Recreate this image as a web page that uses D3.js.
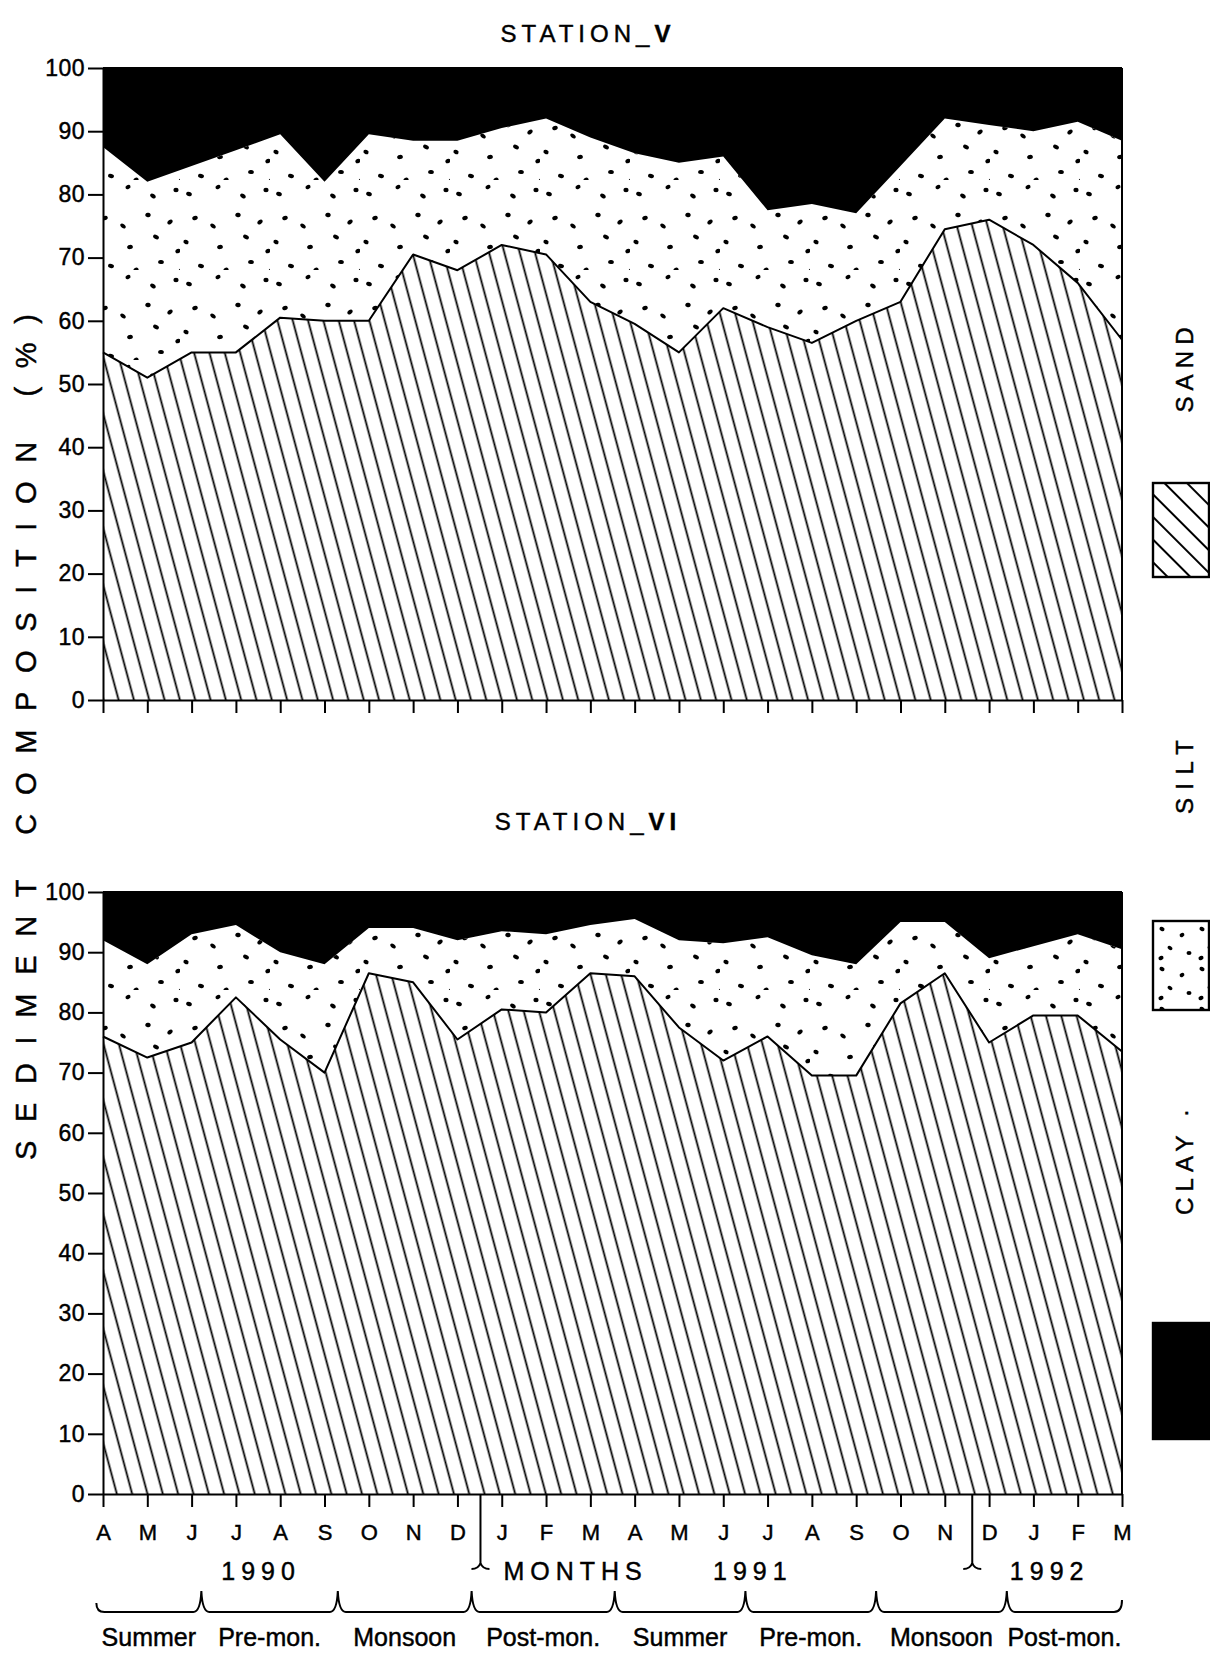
<!DOCTYPE html>
<html>
<head>
<meta charset="utf-8">
<script src="https://cdn.jsdelivr.net/npm/d3@7"></script>
<style>
  html, body { margin: 0; padding: 0; background: #fff; }
  svg { display: block; }
  text { font-family: "Liberation Sans", Arial, sans-serif; fill: #000; stroke: #000; stroke-width: 0.45; }
</style>
</head>
<body>
<svg id="chart" width="1210" height="1658"></svg>
<script>
// ---- data -------------------------------------------------------------
const months = ["A","M","J","J","A","S","O","N","D","J","F","M",
                "A","M","J","J","A","S","O","N","D","J","F","M"];
const yTicks = [0, 10, 20, 30, 40, 50, 60, 70, 80, 90, 100];
const layers = ["sand", "silt", "clay"];

// Station V composition (%)
const sandV = [55, 51, 55, 55, 60.5, 60, 60, 70.5, 68, 72, 70.5, 63,
               59.5, 55, 62, 59, 56.5, 60, 63, 74.5, 76, 72, 66, 57];
const siltV = [32.5, 31, 29.5, 32, 29, 22, 29.5, 18, 20.5, 18.5, 21.5, 26,
               27, 30, 24, 18.5, 22, 17, 21.5, 17.5, 15, 18, 25.5, 31.5];
const clayV = [12.5, 18, 15.5, 13, 10.5, 18, 10.5, 11.5, 11.5, 9.5, 8, 11,
               13.5, 15, 14, 22.5, 21.5, 23, 15.5, 8, 9, 10, 8.5, 11.5];

// Station VI composition (%)
const sandVI = [76, 72.5, 75, 82.5, 75.5, 70, 86.5, 85, 75.5, 80.5, 80, 86.5,
                86, 77.5, 72, 76, 69.5, 69.5, 81.5, 86.5, 75, 79.5, 79.5, 73.5];
const siltVI = [16, 15.5, 18, 12, 14.5, 18, 7.5, 9, 16.5, 13, 13, 8,
                9.5, 14.5, 19.5, 16.5, 20, 18.5, 13.5, 8.5, 14, 11.5, 13.5, 17];
const clayVI = [8, 12, 7, 5.5, 10, 12, 6, 6, 8, 6.5, 7, 5.5,
                4.5, 8, 8.5, 7.5, 10.5, 12, 5, 5, 11, 9, 7, 9.5];

// seasons and their span along the month index
const seasons = ["Summer", "Pre-mon.", "Monsoon", "Post-mon.",
                 "Summer", "Pre-mon.", "Monsoon", "Post-mon."];
const seasonBounds = [-0.15, 2.22, 5.3, 8.32, 11.55, 14.5, 17.45, 20.4, 23];

// year captions under the month axis, and year break markers
const yearLabels = ["1990", "MONTHS", "1991", "1992"];
const yearLabelAt = [3.5, 10.6, 14.6, 21.3];
const yearBreaks = [8.52, 19.62];

const legendNames = ["SAND", "SILT", "CLAY ·"];

// ---- layout -------------------------------------------------------------
const ink = "#000";
const svg = d3.select("#chart");
const defs = svg.append("defs");

const x = d3.scaleLinear().domain([0, months.length - 1]).range([103, 1122]);

// sand: steep diagonal hatching
const hatch = defs.append("pattern")
  .attr("id", "hatch").attr("patternUnits", "userSpaceOnUse")
  .attr("width", 14.8).attr("height", 40)
  .attr("patternTransform", "rotate(-15)");
hatch.append("line")
  .attr("x1", 7.4).attr("x2", 7.4).attr("y1", -2).attr("y2", 42)
  .attr("stroke", ink).attr("stroke-width", 1.8);

const hatchKey = defs.append("pattern")
  .attr("id", "hatchKey").attr("patternUnits", "userSpaceOnUse")
  .attr("width", 16).attr("height", 40)
  .attr("patternTransform", "translate(1153,483) rotate(-45)");
hatchKey.append("line")
  .attr("x1", 8).attr("x2", 8).attr("y1", -2).attr("y2", 42)
  .attr("stroke", ink).attr("stroke-width", 2);

// silt: irregular stipple tiles
const stipple = [
  [9, 14, 2.9, 2.1, 20], [38, 7, 2.7, 2.0, -30], [63, 16, 3.1, 2.0, 35], [86, 10, 2.6, 2.2, 0],
  [15, 38, 2.8, 2.1, -20], [33, 46, 3.1, 1.9, 40], [58, 35, 2.7, 2.2, 10], [80, 42, 3.0, 2.0, -35],
  [6, 62, 2.7, 2.1, 25], [40, 67, 2.9, 2.1, -10], [66, 57, 3.1, 2.0, 30], [88, 71, 2.7, 2.1, -25],
  [21, 86, 3.0, 2.0, 15], [46, 90, 2.7, 2.2, -40], [71, 82, 2.9, 2.1, 5], [91, 91, 2.4, 2.0, 30]
];
const stippleKey = [
  [7, 8, 2.6, 2.0, 20], [27, 14, 2.5, 2.0, -30], [15, 27, 2.7, 1.9, 35],
  [34, 32, 2.5, 2.1, 0], [6, 37, 2.6, 2.0, -20]
];
function stipplePattern(id, dots, size, transform) {
  const p = defs.append("pattern")
    .attr("id", id).attr("patternUnits", "userSpaceOnUse")
    .attr("width", size).attr("height", size);
  if (transform) p.attr("patternTransform", transform);
  p.selectAll("ellipse").data(dots).join("ellipse")
    .attr("cx", d => d[0]).attr("cy", d => d[1])
    .attr("rx", d => d[2]).attr("ry", d => d[3])
    .attr("transform", d => `rotate(${d[4]},${d[0]},${d[1]})`)
    .attr("fill", ink);
}
stipplePattern("dots", stipple, 90, null);
stipplePattern("dotsKey", stippleKey, 40, "translate(1155,921)");

const layerFill = { sand: "url(#hatch)", silt: "url(#dots)", clay: ink };

const panels = [
  { title: "STATION_", numeral: "V", sand: sandV, silt: siltV, clay: clayV,
    top: 68, bottom: 700, titleY: 42, labels: false },
  { title: "STATION_", numeral: "VI", sand: sandVI, silt: siltVI, clay: clayVI,
    top: 892, bottom: 1494, titleY: 830, labels: true }
];

panels.forEach(p => {
  const y = d3.scaleLinear().domain([0, 100]).range([p.bottom, p.top]);
  const rows = months.map((m, i) => ({ i, sand: p.sand[i], silt: p.silt[i], clay: p.clay[i] }));
  const stacked = d3.stack().keys(layers)(rows);

  const area = d3.area()
    .x(d => x(d.data.i))
    .y0(d => y(d[0]))
    .y1(d => y(d[1]));

  const g = svg.append("g");

  g.selectAll("path.layer").data(stacked).join("path")
    .attr("class", "layer")
    .attr("d", area)
    .attr("fill", d => layerFill[d.key]);

  // outline of the sand layer
  g.append("path")
    .datum(stacked[0])
    .attr("d", d3.line().x(d => x(d.data.i)).y(d => y(d[1])))
    .attr("fill", "none").attr("stroke", ink)
    .attr("stroke-width", 2).attr("stroke-linejoin", "round");

  // top frame
  g.append("line")
    .attr("x1", x(0)).attr("x2", x(months.length - 1))
    .attr("y1", y(100)).attr("y2", y(100))
    .attr("stroke", ink).attr("stroke-width", 2);

  // axes
  const yAxis = g.append("g")
    .attr("transform", `translate(${x(0)},0)`)
    .call(d3.axisLeft(y).tickValues(yTicks).tickSize(15).tickSizeOuter(0).tickPadding(3));
  yAxis.selectAll("text")
    .attr("font-size", 23).attr("letter-spacing", 0.5)
    .attr("font-family", "'DejaVu Sans', sans-serif");

  const xAxis = g.append("g")
    .attr("transform", `translate(0,${p.bottom})`)
    .call(d3.axisBottom(x).tickValues(d3.range(months.length))
      .tickSize(13).tickSizeOuter(0).tickPadding(17)
      .tickFormat(i => p.labels ? months[i] : ""));
  xAxis.selectAll("text").attr("font-size", 22).attr("font-family", null);

  [yAxis, xAxis].forEach(a => {
    a.attr("font-family", null);
    a.selectAll("line, path").attr("stroke", ink).attr("stroke-width", 2);
  });

  // right frame
  g.append("line")
    .attr("x1", x(months.length - 1)).attr("x2", x(months.length - 1))
    .attr("y1", y(100)).attr("y2", y(0))
    .attr("stroke", ink).attr("stroke-width", 2);

  // panel title
  const t = svg.append("text")
    .attr("x", 588).attr("y", p.titleY)
    .attr("text-anchor", "middle")
    .attr("font-size", 24).attr("letter-spacing", 5);
  t.append("tspan").text(p.title);
  t.append("tspan").attr("font-weight", "bold").text(p.numeral);

  if (p.labels) {
    // year break markers
    yearBreaks.forEach(b => {
      const bx = x(b), yEnd = 1563;
      svg.append("path")
        .attr("d", `M${bx},${p.bottom}V${yEnd}M${bx - 9},${yEnd + 6}Q${bx - 2},${yEnd + 6} ${bx},${yEnd}Q${bx + 2},${yEnd + 6} ${bx + 9},${yEnd + 6}`)
        .attr("fill", "none").attr("stroke", ink).attr("stroke-width", 2);
    });

    // year captions
    svg.selectAll("text.year").data(yearLabels).join("text")
      .attr("class", "year")
      .attr("x", (d, k) => x(yearLabelAt[k]) + 3)
      .attr("y", 1580)
      .attr("text-anchor", "middle")
      .attr("font-family", "'DejaVu Sans', sans-serif")
      .attr("font-size", 25).attr("letter-spacing", 6)
      .text(d => d);

    // season braces
    const yb = 1612, yt = 1591;
    const path = d3.path();
    const xs = seasonBounds.map(b => x(b));
    path.moveTo(xs[0], 1603);
    path.quadraticCurveTo(xs[0], yb, xs[0] + 8, yb);
    xs.slice(1, -1).forEach(t => {
      path.lineTo(t - 8, yb);
      path.quadraticCurveTo(t - 1, yb, t, yt);
      path.quadraticCurveTo(t + 1, yb, t + 8, yb);
    });
    const xe = xs[xs.length - 1];
    path.lineTo(xe - 8, yb);
    path.quadraticCurveTo(xe, yb, xe, 1600);
    svg.append("path").attr("d", path.toString())
      .attr("fill", "none").attr("stroke", ink).attr("stroke-width", 2);

    svg.selectAll("text.season").data(seasons).join("text")
      .attr("class", "season")
      .attr("x", (d, k) => (xs[k] + xs[k + 1]) / 2)
      .attr("y", 1646)
      .attr("text-anchor", "middle")
      .attr("font-size", 25)
      .text(d => d);
  }
});

// shared y-axis title
svg.append("text")
  .attr("transform", "translate(36,737) rotate(-90)")
  .attr("text-anchor", "middle")
  .attr("font-size", 29)
  .attr("textLength", 846).attr("lengthAdjust", "spacing")
  .text("SEDIMENT COMPOSITION (%)");

// legend
const legendY = [370, 777, 1162];
const legendLen = [85, 74, 106];
svg.selectAll("text.key").data(legendNames).join("text")
  .attr("class", "key")
  .attr("transform", (d, k) => `translate(1193,${legendY[k]}) rotate(-90)`)
  .attr("text-anchor", "middle")
  .attr("font-size", 24)
  .attr("textLength", (d, k) => legendLen[k]).attr("lengthAdjust", "spacing")
  .text(d => d);

const keyBoxes = [
  { fill: "url(#hatchKey)", y: 483, h: 94 },
  { fill: "url(#dotsKey)", y: 921, h: 89 },
  { fill: ink, y: 1323, h: 116 }
];
svg.selectAll("rect.key").data(keyBoxes).join("rect")
  .attr("class", "key")
  .attr("x", 1153).attr("y", d => d.y)
  .attr("width", 56).attr("height", d => d.h)
  .attr("fill", d => d.fill)
  .attr("stroke", ink).attr("stroke-width", 2.4);
</script>
</body>
</html>
